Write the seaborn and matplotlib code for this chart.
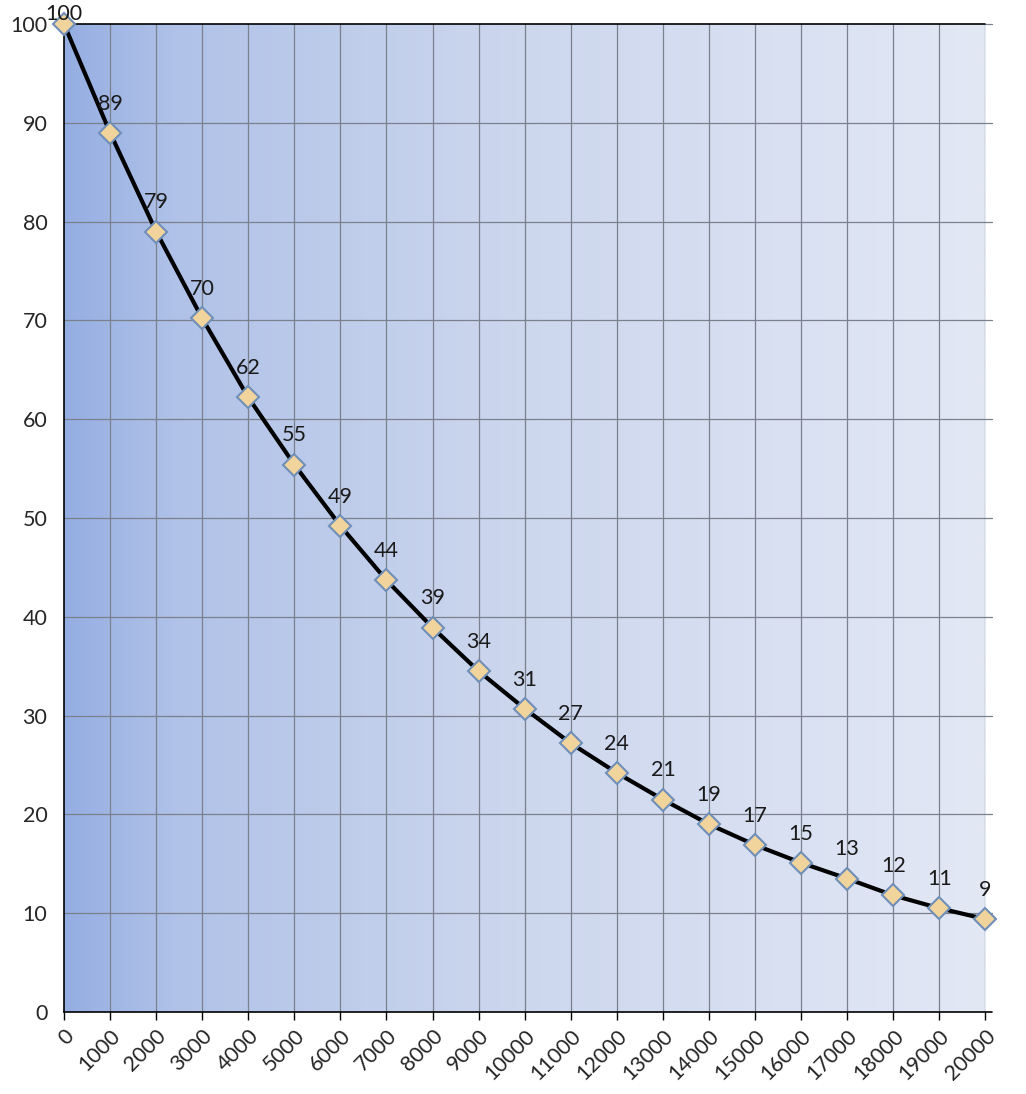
import numpy as np
import pandas as pd
import matplotlib
matplotlib.use('Agg')
import matplotlib.pyplot as plt
from matplotlib.colors import LinearSegmentedColormap
import seaborn as sns

# Данные
x_vals = [0, 1000, 2000, 3000, 4000, 5000, 6000, 7000, 8000, 9000, 10000,
          11000, 12000, 13000, 14000, 15000, 16000, 17000, 18000, 19000, 20000]
y_vals = [100.0, 89.0, 79.0, 70.2, 62.2, 55.4, 49.2, 43.7, 38.9, 34.5, 30.7,
          27.2, 24.2, 21.5, 19.0, 16.9, 15.1, 13.5, 11.8, 10.5, 9.4]
point_labels = ['100', '89', '79', '70', '62', '55', '49', '44', '39', '34', '31',
                '27', '24', '21', '19', '17', '15', '13', '12', '11', '9']
y_ticks = list(range(0, 101, 10))

sns.set_theme(style='white')
plt.rcParams['font.family'] = ['Lato', 'DejaVu Sans']

df = pd.DataFrame({'x': x_vals, 'y': y_vals})

fig = plt.figure(figsize=(10.26, 10.94), dpi=100)
ax = fig.add_axes([0.0624, 0.075, 0.898, 0.903])

# градиентный фон
bg = LinearSegmentedColormap.from_list(
    'bg', [(0, '#95aee2'), (0.12, '#b0c2e8'), (0.45, '#cad5ed'), (1, '#e3e8f5')])
grad = np.linspace(0, 1, 512).reshape(1, -1)
ax.imshow(grad, cmap=bg, aspect='auto', extent=[0, 20000, 0, 100], zorder=0)

ax.set_xlim(0, 20000)
ax.set_ylim(0, 100)
ax.set_xticks(x_vals)
ax.set_yticks(y_ticks)

# сетка (горизонтальные линии чуть выходят за правый край)
for xv in x_vals[1:]:
    ax.axvline(xv, color='#7a808c', lw=0.9, zorder=1)
for yv in y_ticks[1:-1]:
    ax.plot([0, 20150], [yv, yv], color='#7a808c', lw=0.9, zorder=1, clip_on=False)
ax.plot([20000, 20150], [100, 100], color='#7a808c', lw=0.9, zorder=1, clip_on=False)
ax.plot([0, 20000], [100, 100], color='black', lw=1.2, zorder=2, clip_on=False)
ax.plot([0, 20150], [0, 0], color='black', lw=1.2, zorder=2, clip_on=False)

sns.lineplot(data=df, x='x', y='y', ax=ax, color='black', lw=3,
             marker='D', markersize=11, markerfacecolor='#f1d39c',
             markeredgecolor='#6f8fb8', markeredgewidth=1.5, zorder=5, clip_on=False)

for i, (xv, yv, lab) in enumerate(zip(x_vals, y_vals, point_labels)):
    dy = 7 if i == 0 else 21
    ax.annotate(lab, (xv, yv), xytext=(0, dy), textcoords='offset points',
                ha='center', va='center', fontsize=15.5, color='#1a1a1a', zorder=6,
                annotation_clip=False)

ax.set_xticklabels([str(v) for v in x_vals], rotation=45, ha='right',
                   rotation_mode='anchor', fontsize=15.5)
ax.set_yticklabels([str(v) for v in y_ticks], fontsize=15.5)
ax.tick_params(axis='x', direction='out', length=6, width=1, color='black', pad=4,
               bottom=True)
ax.tick_params(axis='y', length=0, pad=12)
ax.set_xlabel('')
ax.set_ylabel('')

for side in ['right', 'bottom', 'top']:
    ax.spines[side].set_visible(False)
ax.spines['left'].set_color('black')
ax.spines['left'].set_linewidth(1.2)

fig.savefig('out.png', dpi=100)
